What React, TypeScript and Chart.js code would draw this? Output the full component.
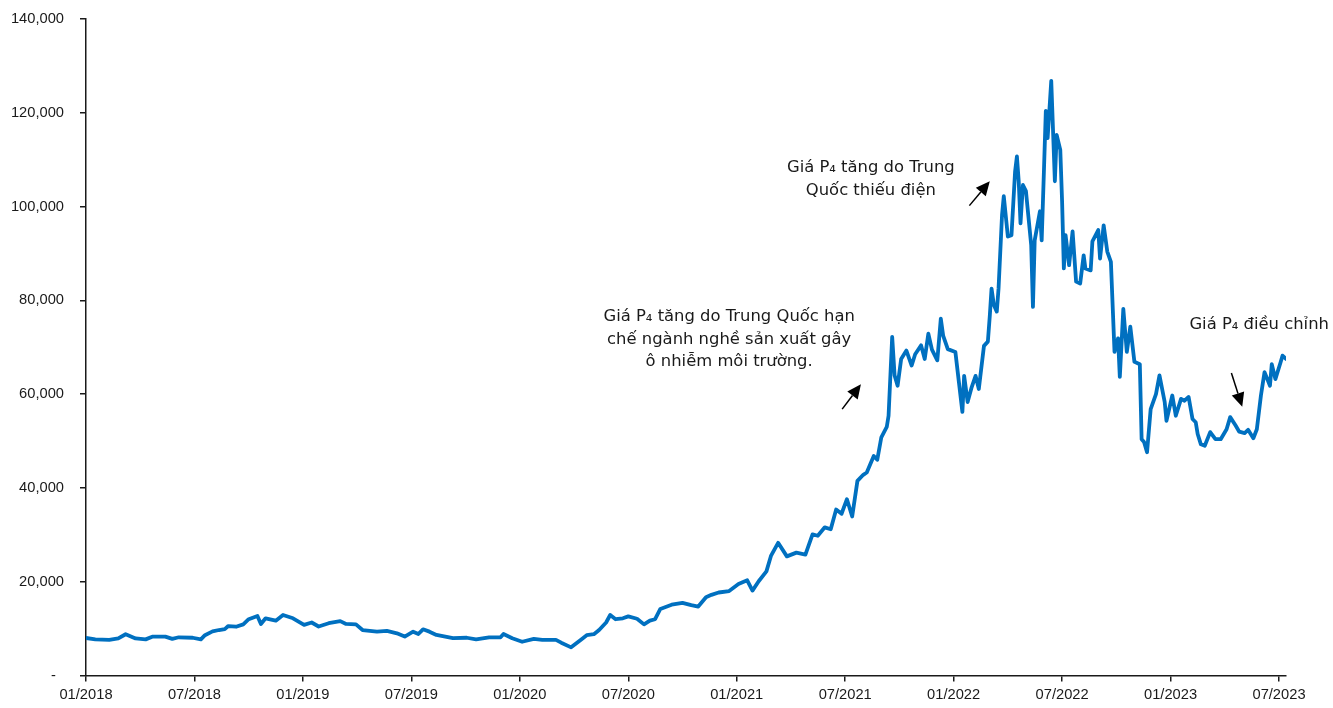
import React, { useEffect, useRef } from "react";
import { Chart, registerables } from "chart.js";

Chart.register(...registerables);

// P4 price series (CNY/tonne), 2018 – mid 2023
const dates = [
  "2018-01-01", "2018-01-17", "2018-02-09", "2018-02-23", "2018-03-07", "2018-03-24", "2018-04-10",
  "2018-04-22", "2018-05-13", "2018-05-25", "2018-06-05", "2018-06-28", "2018-07-12", "2018-07-19",
  "2018-08-01", "2018-08-12", "2018-08-22", "2018-08-28", "2018-09-10", "2018-09-22", "2018-10-01",
  "2018-10-16", "2018-10-22", "2018-10-30", "2018-11-16", "2018-11-28", "2018-12-15", "2019-01-03",
  "2019-01-16", "2019-01-28", "2019-02-13", "2019-03-03", "2019-03-13", "2019-03-30", "2019-04-10",
  "2019-05-04", "2019-05-21", "2019-06-07", "2019-06-20", "2019-07-04", "2019-07-13", "2019-07-21",
  "2019-08-01", "2019-08-13", "2019-09-10", "2019-10-03", "2019-10-19", "2019-11-10", "2019-11-29",
  "2019-12-04", "2019-12-19", "2020-01-05", "2020-01-25", "2020-02-08", "2020-03-01", "2020-03-10",
  "2020-03-27", "2020-04-13", "2020-04-22", "2020-05-04", "2020-05-13", "2020-05-25",
  "2020-06-01", "2020-06-10", "2020-06-22", "2020-07-01", "2020-07-16", "2020-07-28", "2020-08-07",
  "2020-08-16", "2020-08-25", "2020-09-13", "2020-10-01", "2020-10-16", "2020-10-28", "2020-11-10",
  "2020-11-19", "2020-12-01", "2020-12-19", "2021-01-04", "2021-01-19", "2021-01-28", "2021-02-07",
  "2021-02-19", "2021-02-26", "2021-03-10", "2021-03-25", "2021-04-10", "2021-04-25", "2021-05-07",
  "2021-05-16", "2021-05-28", "2021-06-07", "2021-06-16", "2021-06-25", "2021-07-04", "2021-07-13",
  "2021-07-22", "2021-08-01", "2021-08-07", "2021-08-19", "2021-08-25", "2021-09-01", "2021-09-10",
  "2021-09-13", "2021-09-19", "2021-09-23", "2021-09-28", "2021-10-04", "2021-10-13", "2021-10-22",
  "2021-10-28", "2021-11-07", "2021-11-13", "2021-11-19", "2021-11-25", "2021-12-04", "2021-12-10",
  "2021-12-14", "2021-12-22", "2022-01-04", "2022-01-10", "2022-01-16", "2022-01-19", "2022-01-25",
  "2022-02-01", "2022-02-07", "2022-02-12", "2022-02-20", "2022-02-26", "2022-03-01", "2022-03-04",
  "2022-03-08", "2022-03-13", "2022-03-16", "2022-03-22", "2022-03-25", "2022-04-01", "2022-04-07",
  "2022-04-13", "2022-04-16", "2022-04-19", "2022-04-22", "2022-04-26", "2022-05-01", "2022-05-10",
  "2022-05-13", "2022-05-16", "2022-05-25", "2022-05-28", "2022-06-01", "2022-06-04", "2022-06-07",
  "2022-06-13", "2022-06-19", "2022-06-22", "2022-06-28", "2022-07-01", "2022-07-04", "2022-07-07",
  "2022-07-13", "2022-07-19", "2022-07-25", "2022-08-01", "2022-08-07", "2022-08-10", "2022-08-19",
  "2022-08-22", "2022-09-01", "2022-09-04", "2022-09-10", "2022-09-16", "2022-09-22", "2022-09-28",
  "2022-10-04", "2022-10-07", "2022-10-13", "2022-10-19", "2022-10-25", "2022-11-01", "2022-11-10",
  "2022-11-13", "2022-11-17", "2022-11-22", "2022-11-28", "2022-12-07", "2022-12-13", "2022-12-22",
  "2022-12-25", "2023-01-04", "2023-01-10", "2023-01-19", "2023-01-25", "2023-02-01", "2023-02-07",
  "2023-02-12", "2023-02-15", "2023-02-20", "2023-02-26", "2023-03-07", "2023-03-16", "2023-03-25",
  "2023-04-04", "2023-04-10", "2023-04-19", "2023-04-25", "2023-05-04", "2023-05-10", "2023-05-19",
  "2023-05-25", "2023-06-01", "2023-06-07", "2023-06-16", "2023-06-19", "2023-06-25", "2023-07-04",
  "2023-07-07", "2023-07-13",
];

const prices = [
  8000, 7700, 7600, 7900, 8800, 7900, 7700,
  8300, 8300, 7800, 8150, 8050, 7700, 8600,
  9400, 9700, 9900, 10550, 10400, 10900, 12000,
  12700, 11000, 12200, 11700, 12900, 12200, 10800,
  11300, 10450, 11150, 11600, 11000, 10900, 9700,
  9350, 9500, 9000, 8300, 9350, 8850, 9850,
  9350, 8650, 7950, 8050, 7700, 8150, 8150,
  8850, 7950, 7200, 7800, 7600, 7600, 7000,
  6000, 7700, 8600, 8800, 9700, 11300,
  12900, 12000, 12200, 12600, 12100, 10900, 11700,
  12000, 14200, 15100, 15500, 15000, 14700, 16700,
  17200, 17700, 18000, 19500, 20300, 18100, 20100,
  22200, 25500, 28300, 25400, 26200, 25800, 30100,
  29800, 31600, 31200, 35400, 34500, 37600, 33900,
  41500, 42800, 43300, 46800, 46000, 50800, 53000,
  55400, 72200, 64000, 61800, 67500, 69300, 66100,
  68500, 70400, 67500, 72900, 69500, 67200, 76100,
  72500, 69600, 69000, 62600, 56200, 63900, 58300,
  61500, 63900, 61100, 70300, 71200, 76700, 82500,
  79000, 77600, 82500, 98200, 102200, 93600, 93900,
  107500, 110700, 105400, 96400, 104600, 103300, 91800,
  78600, 92800, 99000, 92800, 108200, 120400, 114600,
  126800, 105400, 115300, 112100, 101100, 86800, 93900,
  87500, 94700, 84000, 83600, 89600, 86800, 86400,
  92600, 95000, 88900, 96000, 90400, 88200, 69000,
  71900, 63700, 78200, 69000, 74400, 66900, 66400,
  50400, 49800, 47600, 56800, 60000, 64000, 58300,
  54300, 59700, 55400, 59000, 58600, 59400, 54700,
  54000, 51500, 49300, 49000, 51900, 50400, 50400,
  52500, 55100, 53300, 52000, 51700, 52400, 50600,
  52500, 59700, 64700, 61800, 66400, 63200, 66900,
  68200, 67500,
];

const xTickDates = [
  "2018-01-01", "2018-07-01", "2019-01-01", "2019-07-01", "2020-01-01", "2020-07-01",
  "2021-01-01", "2021-07-01", "2022-01-01", "2022-07-01", "2023-01-01", "2023-07-01",
];
const xTickLabels = [
  "01/2018", "07/2018", "01/2019", "07/2019", "01/2020", "07/2020",
  "01/2021", "07/2021", "01/2022", "07/2022", "01/2023", "07/2023",
];
const xEndDate = "2023-07-13";

// Annotation texts, anchored at (date, value)
const noteLines1 = ["Giá P₄ tăng do Trung Quốc hạn", "chế ngành nghề sản xuất gây", "ô nhiễm môi trường."];
const noteAnchor1 = { date: "2020-12-19", value: 76500 };
const noteLines2 = ["Giá P₄ tăng do Trung", "Quốc thiếu điện"];
const noteAnchor2 = { date: "2021-08-14", value: 108200 };
const noteLines3 = ["Giá P₄ điều chỉnh"];
const noteAnchor3 = { date: "2023-05-29", value: 74800 };

// Arrows: from tail to head
const arrow1 = { from: { date: "2021-06-26", value: 56800 }, to: { date: "2021-07-28", value: 62100 } };
const arrow2 = { from: { date: "2022-01-28", value: 100200 }, to: { date: "2022-03-01", value: 105400 } };
const arrow3 = { from: { date: "2023-04-12", value: 64500 }, to: { date: "2023-04-30", value: 57300 } };

function monthIndex(s: string): number {
  const [y, m, d] = s.split("-").map(Number);
  const dim = new Date(y, m, 0).getDate();
  return (y - 2018) * 12 + (m - 1) + (d - 1) / dim;
}

const TEXT_COLOR = "#1a1a1a";
const NOTE_FONT = '16.4px "DejaVu Sans", "Noto Sans", sans-serif';

const notesPlugin = {
  id: "priceNotes",
  afterDatasetsDraw(chart: any) {
    const { ctx } = chart;
    const xs = chart.scales.x;
    const ys = chart.scales.y;
    const px = (p: { date: string; value: number }) => ({
      x: xs.getPixelForValue(monthIndex(p.date)),
      y: ys.getPixelForValue(p.value),
    });

    ctx.save();
    ctx.fillStyle = TEXT_COLOR;
    ctx.font = NOTE_FONT;
    ctx.textAlign = "center";
    ctx.textBaseline = "middle";
    const drawNote = (lines: string[], anchor: { date: string; value: number }) => {
      const p = px(anchor);
      lines.forEach((t, i) => ctx.fillText(t, p.x, p.y + i * 22.5));
    };
    drawNote(noteLines1, noteAnchor1);
    drawNote(noteLines2, noteAnchor2);
    drawNote(noteLines3, noteAnchor3);

    const drawArrow = (a: { from: any; to: any }) => {
      const s = px(a.from);
      const e = px(a.to);
      const ang = Math.atan2(e.y - s.y, e.x - s.x);
      const headLen = 14;
      const headHalf = 6.5;
      const bx = e.x - headLen * Math.cos(ang);
      const by = e.y - headLen * Math.sin(ang);
      ctx.strokeStyle = "#000";
      ctx.lineWidth = 1.5;
      ctx.beginPath();
      ctx.moveTo(s.x, s.y);
      ctx.lineTo(bx, by);
      ctx.stroke();
      ctx.fillStyle = "#000";
      ctx.beginPath();
      ctx.moveTo(e.x, e.y);
      ctx.lineTo(bx + headHalf * Math.sin(ang), by - headHalf * Math.cos(ang));
      ctx.lineTo(bx - headHalf * Math.sin(ang), by + headHalf * Math.cos(ang));
      ctx.closePath();
      ctx.fill();
    };
    drawArrow(arrow1);
    drawArrow(arrow2);
    drawArrow(arrow3);
    ctx.restore();
  },
};

export default function App() {
  const canvasRef = useRef<HTMLCanvasElement | null>(null);

  useEffect(() => {
    if (!canvasRef.current) return;
    const points = dates.map((d, i) => ({ x: monthIndex(d), y: prices[i] }));
    const tickValues = xTickDates.map(monthIndex);
    const axisFont = { family: '"Liberation Sans", Arial, sans-serif', size: 14.7 };

    const chart = new Chart(canvasRef.current, {
      type: "line",
      data: {
        datasets: [
          {
            label: "P4",
            data: points,
            borderColor: "#0070C0",
            borderWidth: 3.8,
            pointRadius: 0,
            tension: 0,
            borderJoinStyle: "round",
            borderCapStyle: "round",
            fill: false,
          },
        ],
      },
      options: {
        animation: false,
        responsive: false,
        maintainAspectRatio: false,
        layout: { padding: { top: 19, right: 47, left: 0, bottom: 0 } },
        plugins: {
          legend: { display: false },
          tooltip: { enabled: false },
        },
        scales: {
          x: {
            type: "linear",
            min: 0,
            max: monthIndex(xEndDate),
            afterBuildTicks: (scale: any) => {
              scale.ticks = tickValues.map((v) => ({ value: v }));
            },
            afterFit: (scale: any) => {
              scale.height = 32.5;
              scale.paddingLeft = 0;
              scale.paddingRight = 0;
            },
            ticks: {
              autoSkip: false,
              maxRotation: 0,
              minRotation: 0,
              padding: 5,
              color: TEXT_COLOR,
              font: axisFont,
              callback: (_v: any, i: number) => xTickLabels[i],
            },
            grid: {
              drawOnChartArea: false,
              drawTicks: true,
              tickLength: 6,
              color: "#1a1a1a",
              lineWidth: 1.5,
            },
            border: { display: true, color: "#1a1a1a", width: 1.5 },
          },
          y: {
            type: "linear",
            min: 0,
            max: 140000,
            afterFit: (scale: any) => {
              scale.width = 86;
              scale.paddingTop = 0;
              scale.paddingBottom = 0;
            },
            ticks: {
              stepSize: 20000,
              padding: 16,
              color: TEXT_COLOR,
              font: axisFont,
              callback: (v: any) => (Number(v) === 0 ? "-  " : Number(v).toLocaleString("en-US")),
            },
            grid: {
              drawOnChartArea: false,
              drawTicks: true,
              tickLength: 6,
              color: "#1a1a1a",
              lineWidth: 1.5,
            },
            border: { display: true, color: "#1a1a1a", width: 1.5 },
          },
        },
      },
      plugins: [notesPlugin],
    } as any);

    return () => chart.destroy();
  }, []);

  return (
    <div style={{ position: "fixed", left: 0, top: 0, width: 1333, height: 708, background: "#fff" }}>
      <canvas ref={canvasRef} width={1333} height={708} />
    </div>
  );
}
